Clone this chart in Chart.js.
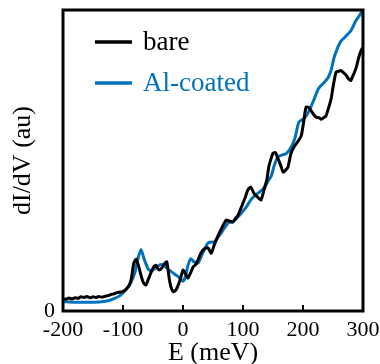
<!DOCTYPE html>
<html>
<head>
<meta charset="utf-8">
<script src="https://cdn.jsdelivr.net/npm/chart.js@4"></script>
<style>
  body { margin: 0; background: #fff; }
  #wrap { width: 380px; height: 364px; }
</style>
</head>
<body>
<div id="wrap"><canvas id="spectraChart" width="380" height="364"></canvas></div>
<script>
// bare tip, energy (meV) and dI/dV (au)
const bareEnergy = [-200, -195, -190, -185, -180, -175, -170, -165, -160, -155, -150, -145, -140, -135, -130, -125, -120, -115, -110, -105,
    -100, -95, -90, -86, -82, -78, -74, -70, -66, -62, -58, -53, -48, -45, -42, -40, -35, -30, -27, -23,
    -20, -16, -12, -8, -4, 0, 4, 8, 12, 17, 21, 25, 29, 33, 38, 42, 47, 52, 57, 63,
    68, 72, 77, 83, 88, 92, 96, 100, 104, 108, 113, 118, 124, 130, 135, 140, 143, 147, 150, 154,
    158, 163, 167, 171, 175, 180, 185, 191, 197, 201, 205, 209, 213, 218, 222, 227, 230, 234, 238, 243,
    247, 250, 255, 259, 263, 268, 272, 276, 280, 283, 285, 289, 293, 297, 300];
const bareValues = [4.1, 3.9, 4.3, 4.0, 4.4, 4.2, 4.7, 4.5, 4.8, 4.4, 4.7, 4.5, 4.8, 4.6, 4.9, 5.1, 5.5, 5.7, 6.1, 6.3,
    6.5, 7.2, 8.4, 10.9, 15.9, 17.2, 14.9, 11.9, 9.4, 8.6, 10.4, 12.9, 14.9, 15.2, 14.1, 13.6, 14.4, 15.9, 16.3, 10.9,
    7.9, 6.4, 6.9, 8.6, 10.9, 13.6, 12.4, 10.9, 12.4, 14.7, 15.4, 16.9, 18.9, 20.2, 20.9, 20.9, 19.2, 21.9, 24.4, 26.9,
    28.9, 30.2, 29.9, 29.6, 30.9, 31.9, 33.9, 35.9, 37.9, 40.2, 41.2, 39.2, 37.9, 36.9, 40.2, 43.9, 47.9, 50.8, 52.4, 52.6,
    50.8, 48.3, 46.1, 46.8, 47.8, 52.4, 54.5, 56.2, 58.2, 62.7, 67.7, 67.7, 66.7, 65.2, 64.4, 64.2, 63.7, 64.2, 64.7, 67.7,
    70.6, 74.3, 79.3, 79.6, 79.9, 79.1, 78.3, 77.1, 76.6, 78.1, 78.9, 81.1, 84.3, 86.6, 87.6];

// Al-coated tip
const coatedEnergy = [-200, -180, -160, -140, -125, -115, -105, -95, -87, -80, -75, -70, -65, -58, -53, -45, -38, -32, -25, -15,
    -8, 0, 4, 8, 13, 18, 25, 32, 41, 47, 52, 60, 69, 76, 83, 90, 97, 105, 113, 120,
    128, 135, 141, 147, 152, 158, 165, 172, 180, 187, 193, 202, 208, 213, 219, 225, 230, 236, 242, 247,
    252, 258, 263, 268, 275, 280, 288, 293, 300];
const coatedValues = [3.1, 2.9, 2.9, 3.0, 3.4, 4.1, 5.1, 7.1, 9.4, 12.9, 17.4, 20.4, 17.4, 13.9, 13.4, 14.4, 15.4, 15.2, 13.9, 12.4,
    11.4, 9.9, 11.4, 14.9, 17.4, 16.4, 15.9, 18.9, 22.5, 22.9, 22.9, 24.9, 27.5, 29.4, 29.6, 30.9, 32.5, 34.4, 36.9, 38.4,
    39.6, 40.9, 42.9, 44.8, 48.3, 51.2, 51.8, 52.3, 54.3, 57.7, 62.7, 64.0, 65.7, 67.7, 70.6, 73.6, 74.9, 76.1, 77.6, 80.1,
    84.3, 87.6, 89.6, 90.6, 92.0, 93.2, 96.4, 97.8, 100];

const xTicks = [-200, -100, 0, 100, 200, 300];
const yTicks = [0];

const BLUE = '#0072BD';
const serif = '"Liberation Serif", "DejaVu Serif", serif';

function toPoints(xs, ys) {
    return xs.map((x, i) => ({ x: x, y: ys[i] }));
}

// black frame round the plot + inward x ticks
const framePlugin = {
    id: 'frame',
    afterDatasetsDraw(chart) {
        const { ctx, chartArea: a, scales } = chart;
        ctx.save();
        ctx.strokeStyle = '#000';
        ctx.lineWidth = 2;
        xTicks.slice(1, -1).forEach(v => {
            const px = scales.x.getPixelForValue(v);
            ctx.beginPath();
            ctx.moveTo(px, a.bottom);
            ctx.lineTo(px, a.bottom - 6);
            ctx.stroke();
        });
        ctx.lineWidth = 3;
        ctx.strokeRect(a.left, a.top, a.right - a.left, a.bottom - a.top);
        ctx.restore();
    }
};

// legend drawn inside the plot, top left
const insideLegend = {
    id: 'insideLegend',
    afterDraw(chart) {
        const { ctx } = chart;
        ctx.save();
        ctx.font = '27px ' + serif;
        ctx.textBaseline = 'middle';
        chart.data.datasets.forEach((ds, i) => {
            const y = 42 + i * 41;
            ctx.strokeStyle = ds.borderColor;
            ctx.lineWidth = 3.5;
            ctx.beginPath();
            ctx.moveTo(95, y);
            ctx.lineTo(132, y);
            ctx.stroke();
            ctx.fillStyle = ds.borderColor;
            ctx.fillText(ds.label, 143, y + 1);
        });
        ctx.restore();
    }
};

new Chart(document.getElementById('spectraChart').getContext('2d'), {
    type: 'line',
    data: {
        datasets: [
            {
                label: 'bare',
                data: toPoints(bareEnergy, bareValues),
                borderColor: '#000000',
                borderWidth: 3,
                pointRadius: 0,
                tension: 0.2
            },
            {
                label: 'Al-coated',
                data: toPoints(coatedEnergy, coatedValues),
                borderColor: BLUE,
                borderWidth: 3,
                pointRadius: 0,
                tension: 0.2
            }
        ]
    },
    options: {
        responsive: false,
        animation: false,
        layout: { padding: { top: 10, right: 17, left: 0, bottom: 0 } },
        plugins: {
            legend: { display: false },
            tooltip: { enabled: false }
        },
        scales: {
            x: {
                type: 'linear',
                min: -200,
                max: 300,
                afterBuildTicks: s => { s.ticks = xTicks.map(v => ({ value: v })); },
                afterFit: s => {
                    s.height = 53;
                    s.paddingLeft = 0;
                    s.paddingRight = 0;
                },
                grid: { display: false, drawTicks: false },
                border: { display: false },
                ticks: {
                    color: '#000',
                    font: { family: serif, size: 22 },
                    padding: 6,
                    maxRotation: 0
                },
                title: {
                    display: true,
                    text: 'E (meV)',
                    color: '#000',
                    font: { family: serif, size: 26, lineHeight: 1 },
                    padding: { top: 0, bottom: -2 }
                }
            },
            y: {
                min: 0,
                max: 100,
                afterBuildTicks: s => { s.ticks = yTicks.map(v => ({ value: v })); },
                afterFit: s => {
                    s.width = 63;
                    s.paddingTop = 0;
                    s.paddingBottom = 0;
                },
                grid: { display: false, drawTicks: false },
                border: { display: false },
                ticks: {
                    color: '#000',
                    font: { family: serif, size: 22 },
                    padding: 8
                },
                title: {
                    display: true,
                    text: 'dI/dV (au)',
                    color: '#000',
                    font: { family: serif, size: 26, lineHeight: 1 },
                    padding: { top: 10, bottom: 0 }
                }
            }
        }
    },
    plugins: [framePlugin, insideLegend]
});
</script>
</body>
</html>
